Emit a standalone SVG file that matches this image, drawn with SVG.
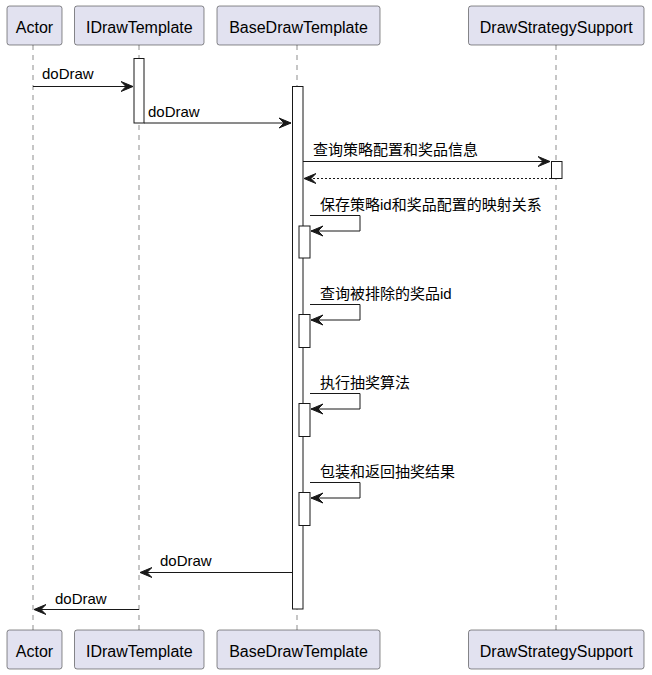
<svg xmlns="http://www.w3.org/2000/svg" width="652" height="675" viewBox="0 0 652 675">
  <style>
    .box { fill: #E2E2F0; stroke: #181818; stroke-width: 0.5; }
    .life { stroke: #181818; stroke-width: 0.5; stroke-dasharray: 5,5; fill: none; }
    .act { fill: #FFFFFF; stroke: #181818; stroke-width: 1; }
    .msg { stroke: #181818; stroke-width: 1; fill: none; }
    .ret { stroke: #181818; stroke-width: 1; fill: none; stroke-dasharray: 2,2; }
    .name { font-family: "Liberation Sans", Arial, sans-serif; font-size: 16px; fill: #000000; text-anchor: middle; }
    .lbl { font-family: "Liberation Sans", "Noto Sans CJK SC", sans-serif; font-size: 15px; fill: #000000; }
  </style>
  <defs>
    <marker id="arrow" viewBox="0 0 13 12" refX="12" refY="6" markerWidth="13" markerHeight="12" markerUnits="userSpaceOnUse" orient="auto">
      <polygon points="0,1 12,6 0,11 5,6" fill="#181818" stroke="#181818" stroke-width="1"/>
    </marker>
  </defs>

  <!-- lifelines -->
  <g id="lifelines">
    <line class="life" x1="33" y1="45" x2="33" y2="630"/>
    <line class="life" x1="139" y1="45" x2="139" y2="630"/>
    <line class="life" x1="297" y1="45" x2="297" y2="630"/>
    <line class="life" x1="556" y1="45" x2="556" y2="630"/>
  </g>

  <!-- participants -->
  <g id="actor">
    <rect class="box" x="7" y="6" width="55" height="39" rx="2.5"/>
    <text class="name" x="34.5" y="33">Actor</text>
    <rect class="box" x="7" y="630" width="55" height="39" rx="2.5"/>
    <text class="name" x="34.5" y="657">Actor</text>
  </g>
  <g id="idrawtemplate">
    <rect class="box" x="74.5" y="6" width="129.5" height="39" rx="2.5"/>
    <text class="name" x="139.3" y="33">IDrawTemplate</text>
    <rect class="box" x="74.5" y="630" width="129.5" height="39" rx="2.5"/>
    <text class="name" x="139.3" y="657">IDrawTemplate</text>
  </g>
  <g id="basedrawtemplate">
    <rect class="box" x="217" y="6" width="163" height="39" rx="2.5"/>
    <text class="name" x="298.5" y="33">BaseDrawTemplate</text>
    <rect class="box" x="217" y="630" width="163" height="39" rx="2.5"/>
    <text class="name" x="298.5" y="657">BaseDrawTemplate</text>
  </g>
  <g id="drawstrategysupport">
    <rect class="box" x="468.5" y="6" width="175.5" height="39" rx="2.5"/>
    <text class="name" x="556.3" y="33">DrawStrategySupport</text>
    <rect class="box" x="468.5" y="630" width="175.5" height="39" rx="2.5"/>
    <text class="name" x="556.3" y="657">DrawStrategySupport</text>
  </g>

  <!-- activation bars -->
  <g id="activations">
    <rect class="act" x="134" y="58.5" width="10" height="64.5"/>
    <rect class="act" x="292.5" y="86.5" width="10.5" height="522.5"/>
    <rect class="act" x="551.5" y="161.5" width="10.5" height="17"/>
    <rect class="act" x="299" y="226" width="11" height="32"/>
    <rect class="act" x="299" y="314.5" width="11" height="33"/>
    <rect class="act" x="299" y="403.5" width="11" height="33"/>
    <rect class="act" x="299" y="492.5" width="11" height="33"/>
  </g>

  <!-- messages -->
  <g id="connectors">
    <line class="msg" x1="33" y1="86.5" x2="133" y2="86.5" marker-end="url(#arrow)"/>
    <text class="lbl" x="42" y="79">doDraw</text>

    <line class="msg" x1="144" y1="123" x2="291" y2="123" marker-end="url(#arrow)"/>
    <text class="lbl" x="148" y="117">doDraw</text>

    <line class="msg" x1="303" y1="161.5" x2="550" y2="161.5" marker-end="url(#arrow)"/>
    <text class="lbl" x="313" y="155">查询策略配置和奖品信息</text>

    <line class="ret" x1="551" y1="178.5" x2="304" y2="178.5" marker-end="url(#arrow)"/>

    <polyline class="msg" points="310,215.5 360,215.5 360,231 311,231" marker-end="url(#arrow)"/>
    <text class="lbl" x="320" y="210">保存策略id和奖品配置的映射关系</text>

    <polyline class="msg" points="310,304.5 360,304.5 360,320 311,320" marker-end="url(#arrow)"/>
    <text class="lbl" x="320" y="299">查询被排除的奖品id</text>

    <polyline class="msg" points="310,393.5 360,393.5 360,409 311,409" marker-end="url(#arrow)"/>
    <text class="lbl" x="320" y="388">执行抽奖算法</text>

    <polyline class="msg" points="310,482.5 360,482.5 360,498 311,498" marker-end="url(#arrow)"/>
    <text class="lbl" x="320" y="477">包装和返回抽奖结果</text>

    <line class="msg" x1="292" y1="572.5" x2="140" y2="572.5" marker-end="url(#arrow)"/>
    <text class="lbl" x="160" y="566">doDraw</text>

    <line class="msg" x1="139" y1="609.5" x2="34" y2="609.5" marker-end="url(#arrow)"/>
    <text class="lbl" x="55" y="604">doDraw</text>
  </g>
</svg>
